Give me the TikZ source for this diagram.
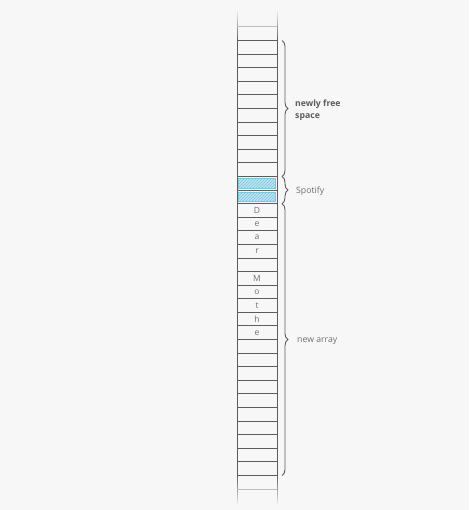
\documentclass[tikz,border=0pt]{standalone}
\usepackage{fontspec}
\setmainfont{Open Sans}
\usetikzlibrary{positioning, calc, patterns, decorations.pathreplacing}
\definecolor{bgcol}{HTML}{F7F7F7}
\definecolor{linecol}{HTML}{5C5C5C}
\definecolor{fadecol}{HTML}{BDBDBD}
\definecolor{textcol}{HTML}{707070}
\definecolor{hatchfill}{HTML}{BDE3F0}
\definecolor{hatchline}{HTML}{7CC7E0}
\tikzset{
  cellbox/.style={draw=linecol, line width=1pt, minimum width=40pt, minimum height=13.59pt,
    inner sep=0pt, outer sep=0pt, text=textcol, font=\fontsize{8.5}{10}\selectfont},
  bracebar/.style={draw=linecol, line width=0.9pt, decorate,
    decoration={brace, amplitude=6pt, aspect=0.5}},
  lbl/.style={text=textcol, font=\fontsize{8.7}{12}\selectfont, align=left, inner sep=0pt}
}
\begin{document}
\begin{tikzpicture}[x=1pt, y=-1pt]
\useasboundingbox[fill=bgcol] (0,0) rectangle (469,510);
\foreach \k in {0,...,30} {
  \pgfmathsetmacro{\shadeval}{100-3.2*\k}
  \draw[linecol!\shadeval!bgcol, line width=1pt] (237,41-\k) -- (237,40-\k) (277,41-\k) -- (277,40-\k);
  \draw[linecol!\shadeval!bgcol, line width=1pt] (237,475+\k) -- (237,476+\k) (277,475+\k) -- (277,476+\k);
}
\draw[fadecol, line width=1pt] (237,27) -- (277,27);
\draw[fadecol, line width=1pt] (237,489) -- (277,489);
\foreach \i in {1,...,32} {
  \node[cellbox] (c\i) at (257, 27+13.59*\i+6.795) {};
}
\foreach \i/\ch in {13/D,14/e,15/a,16/r,18/M,19/o,20/t,21/h,22/e} {
  \node[cellbox, draw=none] (ch\i) at (c\i) {\ch};
}
\foreach \i in {11,12} {
  \fill[hatchfill] ([shift={(1.5,2)}]c\i.north west) rectangle ([shift={(-1.5,-2)}]c\i.south east);
  \draw[hatchline, line width=0.6pt, pattern=north east lines, pattern color=hatchline]
    ([shift={(1.5,2)}]c\i.north west) rectangle ([shift={(-1.5,-2)}]c\i.south east);
}
\coordinate (freetop) at ($(c1.north east)+(5,0)$);
\coordinate (freebot) at ($(c10.south east)+(5,0)$);
\coordinate (spotbot) at ($(c12.south east)+(5,0)$);
\coordinate (arrbot) at ($(c32.south east)+(5,0)$);
\draw[bracebar] (freetop) -- (freebot);
\draw[bracebar] (freebot) -- (spotbot);
\draw[bracebar] (spotbot) -- (arrbot);
\node[lbl, anchor=west, font=\fontsize{8.7}{12}\selectfont\bfseries, text=linecol]
  (freelbl) at ($(freetop)!.5!(freebot)+(13,2)$) {newly free\\space};
\node[lbl, anchor=west] (spotlbl) at ($(freebot)!.5!(spotbot)+(14,1)$) {Spotify};
\node[lbl, anchor=west] (arrlbl) at ($(spotbot)!.5!(arrbot)+(15,2)$) {new array};
\end{tikzpicture}
\end{document}
